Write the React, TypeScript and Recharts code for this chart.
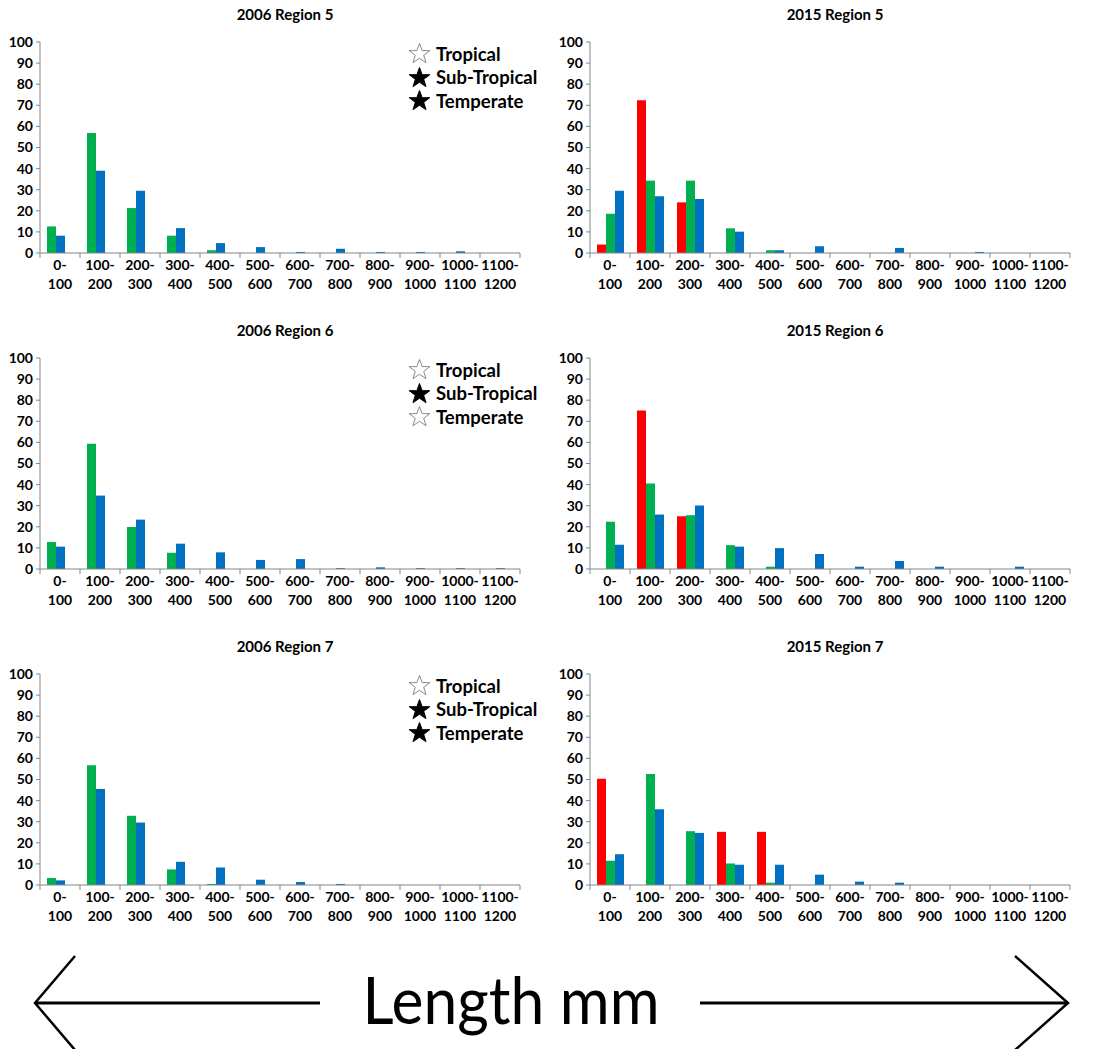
import React from "react";
import { BarChart, Bar, XAxis, YAxis } from "recharts";

// Length classes (mm) shared by every panel
const lengthBins = [
  "0-100", "100-200", "200-300", "300-400", "400-500", "500-600",
  "600-700", "700-800", "800-900", "900-1000", "1000-1100", "1100-1200",
];
const yTicks = [0, 10, 20, 30, 40, 50, 60, 70, 80, 90, 100];

// 2006 surveys (two series)
const r5y2006Green = [12.6, 56.9, 21.3, 8.2, 1.3, 0, 0, 0, 0, 0, 0, 0];
const r5y2006Blue = [8.2, 39, 29.5, 11.8, 4.7, 2.8, 0.5, 2, 0.5, 0.5, 0.8, 0];
const r6y2006Green = [12.8, 59.4, 19.9, 7.7, 0, 0, 0, 0, 0, 0, 0, 0];
const r6y2006Blue = [10.6, 34.8, 23.4, 12, 7.9, 4.3, 4.7, 0.4, 0.8, 0.4, 0.4, 0.4];
const r7y2006Green = [3.3, 56.7, 32.8, 7.4, 0.5, 0, 0, 0, 0, 0, 0, 0];
const r7y2006Blue = [2.2, 45.5, 29.6, 11, 8.3, 2.5, 1.4, 0.5, 0, 0, 0, 0];

// 2015 surveys (three series)
const r5y2015Red = [4, 72.4, 24, 0, 0, 0, 0, 0, 0, 0, 0, 0];
const r5y2015Green = [18.6, 34.3, 34.3, 11.7, 1.3, 0, 0, 0, 0, 0, 0, 0];
const r5y2015Blue = [29.5, 26.9, 25.6, 10.1, 1.3, 3.2, 0, 2.4, 0, 0.5, 0, 0];
const r6y2015Red = [0, 75.1, 25, 0, 0, 0, 0, 0, 0, 0, 0, 0];
const r6y2015Green = [22.4, 40.5, 25.5, 11.3, 1.1, 0, 0, 0, 0, 0, 0, 0];
const r6y2015Blue = [11.5, 25.8, 30.1, 10.6, 9.9, 7.1, 1.1, 3.8, 1.1, 0, 1.1, 0];
const r7y2015Red = [50.4, 0, 0, 25.2, 25.2, 0, 0, 0, 0, 0, 0, 0];
const r7y2015Green = [11.5, 52.6, 25.5, 10.2, 1.1, 0, 0, 0, 0, 0, 0, 0];
const r7y2015Blue = [14.6, 35.9, 24.7, 9.6, 9.6, 4.9, 1.6, 1.1, 0, 0, 0, 0];

// Climate zone legends for the 2006 panels (true = filled star)
const climateZones = ["Tropical", "Sub-Tropical", "Temperate"];
const r5Zones = [false, true, true];
const r6Zones = [false, true, false];
const r7Zones = [false, true, true];

const RED = "#FF0000";
const GREEN = "#00B050";
const BLUE = "#0070C0";
const AXIS = "#868686";
const FONT = "Lato, 'Open Sans', sans-serif";

const CHART_W = 540;
const CHART_H = 300;
const MARGIN = { top: 42, right: 20, bottom: 2, left: 0 };
const Y_W = 40;
const BAND = (CHART_W - MARGIN.right - MARGIN.left - Y_W) / lengthBins.length;

const buildRows = (series: Record<string, number[]>) =>
  lengthBins.map((bin, i) => {
    const row: Record<string, string | number> = { bin };
    Object.keys(series).forEach((k) => (row[k] = series[k][i]));
    return row;
  });

const BinTick = (props: any) => {
  const { x, y, payload, index } = props;
  const label: string = payload.value;
  const cut = label.indexOf("-");
  const top = label.slice(0, cut + 1);
  const bottom = label.slice(cut + 1);
  const last = index === lengthBins.length - 1;
  return (
    <g>
      <line x1={x - BAND / 2} x2={x - BAND / 2} y1={y} y2={y + 5} stroke={AXIS} />
      {last && <line x1={x + BAND / 2} x2={x + BAND / 2} y1={y} y2={y + 5} stroke={AXIS} />}
      <text
        x={x}
        y={y}
        textAnchor="middle"
        fontFamily={FONT}
        fontWeight={700}
        fontSize={14}
        fill="#000"
      >
        <tspan x={x} dy={17}>{top}</tspan>
        <tspan x={x} dy={19}>{bottom}</tspan>
      </text>
    </g>
  );
};

interface SeriesDef {
  key: string;
  color: string;
}

interface PanelProps {
  title: string;
  left: number;
  top: number;
  series: Record<string, number[]>;
  bars: SeriesDef[];
  zones?: boolean[];
}

const Star = ({ filled }: { filled: boolean }) => (
  <svg width={23} height={23} viewBox="0 0 24 24" style={{ display: "block" }}>
    <polygon
      points="12,1.5 14.8,9 22.8,9 16.4,13.9 18.8,21.6 12,17 5.2,21.6 7.6,13.9 1.2,9 9.2,9"
      fill={filled ? "#000" : "#fff"}
      stroke={filled ? "#000" : "#777"}
      strokeWidth={filled ? 1 : 0.9}
    />
  </svg>
);

const Panel: React.FC<PanelProps> = ({ title, left, top, series, bars, zones }) => {
  const rows = buildRows(series);
  return (
    <div style={{ position: "absolute", left, top, width: CHART_W, height: CHART_H }}>
      <div
        style={{
          position: "absolute",
          left: Y_W,
          width: CHART_W - Y_W - MARGIN.right + 10,
          top: 4,
          textAlign: "center",
          fontFamily: FONT,
          fontWeight: 700,
          fontSize: 15,
          lineHeight: "20px",
        }}
      >
        {title}
      </div>
      <BarChart
        width={CHART_W}
        height={CHART_H}
        data={rows}
        margin={MARGIN}
        barCategoryGap="17.5%"
        barGap={0}
      >
        <XAxis
          dataKey="bin"
          interval={0}
          height={45}
          tickSize={0}
          tickMargin={0}
          tickLine={false}
          axisLine={{ stroke: AXIS }}
          tick={<BinTick />}
        />
        <YAxis
          width={Y_W}
          domain={[0, 100]}
          ticks={yTicks}
          interval={0}
          tickSize={4}
          tickMargin={3}
          axisLine={{ stroke: AXIS }}
          tickLine={{ stroke: AXIS }}
          tick={{ fill: "#000", fontSize: 14, fontWeight: 700, fontFamily: FONT }}
        />
        {bars.map((b) => (
          <Bar key={b.key} dataKey={b.key} fill={b.color} isAnimationActive={false} />
        ))}
      </BarChart>
      {zones && (
        <div style={{ position: "absolute", left: 408, top: 42, fontFamily: FONT }}>
          {climateZones.map((z, i) => (
            <div
              key={z}
              style={{ display: "flex", alignItems: "center", height: 23.5, gap: 5 }}
            >
              <Star filled={zones[i]} />
              <span style={{ fontWeight: 700, fontSize: 18.5 }}>{z}</span>
            </div>
          ))}
        </div>
      )}
    </div>
  );
};

// 2006 charts keep an empty third slot so the groups line up with 2015
const bars2006: SeriesDef[] = [
  { key: "green", color: GREEN },
  { key: "blue", color: BLUE },
  { key: "empty", color: "transparent" },
];
const bars2015: SeriesDef[] = [
  { key: "red", color: RED },
  { key: "green", color: GREEN },
  { key: "blue", color: BLUE },
];

const ROW = 316;

export default function App() {
  return (
    <div
      style={{
        position: "absolute",
        left: 0,
        top: 0,
        width: 1102,
        height: 1049,
        background: "#fff",
        overflow: "hidden",
      }}
    >
      <Panel title="2006 Region 5" left={0} top={0} bars={bars2006} zones={r5Zones}
        series={{ green: r5y2006Green, blue: r5y2006Blue }} />
      <Panel title="2015 Region 5" left={550} top={0} bars={bars2015}
        series={{ red: r5y2015Red, green: r5y2015Green, blue: r5y2015Blue }} />
      <Panel title="2006 Region 6" left={0} top={ROW} bars={bars2006} zones={r6Zones}
        series={{ green: r6y2006Green, blue: r6y2006Blue }} />
      <Panel title="2015 Region 6" left={550} top={ROW} bars={bars2015}
        series={{ red: r6y2015Red, green: r6y2015Green, blue: r6y2015Blue }} />
      <Panel title="2006 Region 7" left={0} top={ROW * 2} bars={bars2006} zones={r7Zones}
        series={{ green: r7y2006Green, blue: r7y2006Blue }} />
      <Panel title="2015 Region 7" left={550} top={ROW * 2} bars={bars2015}
        series={{ red: r7y2015Red, green: r7y2015Green, blue: r7y2015Blue }} />

      {/* shared x-axis caption with arrows */}
      <svg
        width={1102}
        height={1049}
        style={{ position: "absolute", left: 0, top: 0, pointerEvents: "none" }}
      >
        <g stroke="#000" strokeWidth={3} fill="none" strokeLinejoin="miter">
          <line x1={35} y1={1003} x2={320} y2={1003} />
          <polyline points="75,956 35,1003 75,1050" strokeWidth={2.5} />
          <line x1={700} y1={1003} x2={1068} y2={1003} />
          <polyline points="1015,956 1068,1003 1015,1050" strokeWidth={2.5} />
        </g>
        <text
          x={511}
          y={1024}
          textAnchor="middle"
          fontFamily={FONT}
          fontSize={66}
          textLength={297}
          lengthAdjust="spacingAndGlyphs"
          fill="#000"
        >
          Length mm
        </text>
      </svg>
    </div>
  );
}
